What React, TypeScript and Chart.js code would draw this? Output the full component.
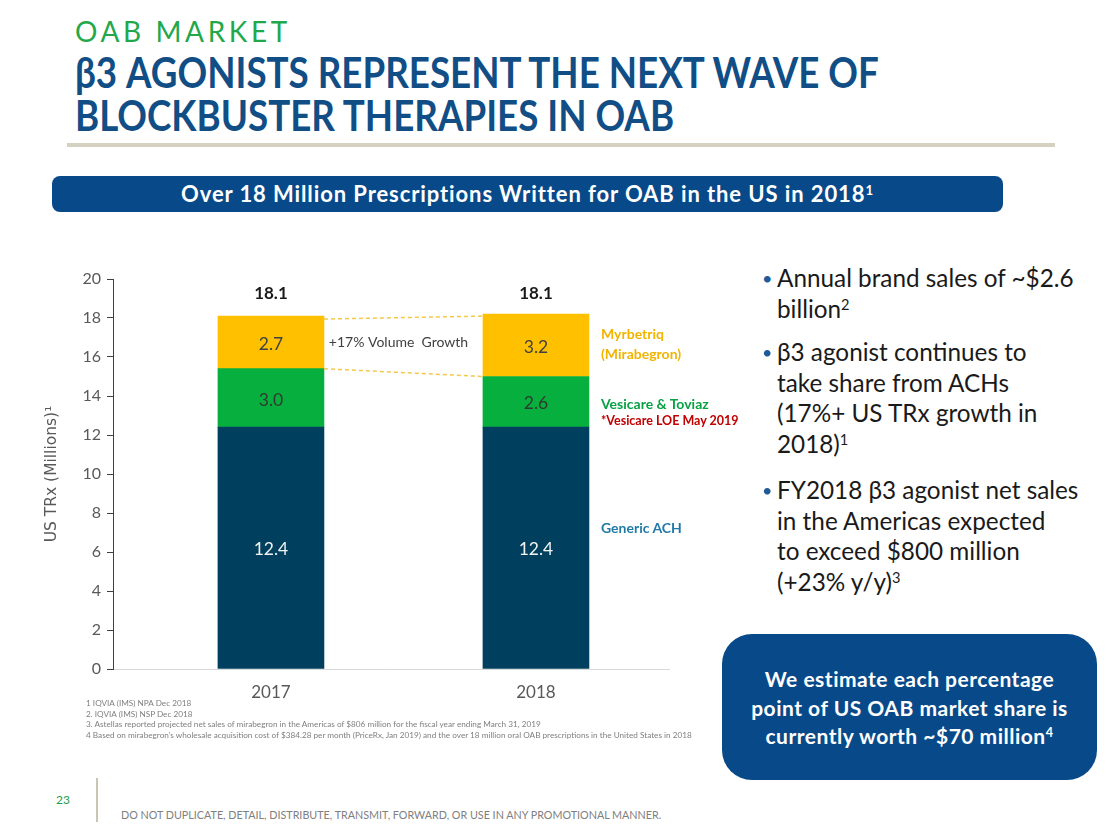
import React, { useEffect, useRef } from 'react';
import { Chart, registerables } from 'chart.js';

Chart.register(...registerables);

// ---- data ----
const categories = ['2017', '2018'];
const genericACH = [12.4, 12.4];
const vesicareToviaz = [3.0, 2.6];
const myrbetriq = [2.7, 3.2];
const totalLabels = ['18.1', '18.1'];
const seriesNames = ['Generic ACH', 'Vesicare & Toviaz', 'Myrbetriq (Mirabegron)'];
const growthLabel = '+17% Volume  Growth';
const yMin = 0;
const yMax = 20;
const yStep = 2;

const FONT = 'Lato, "Open Sans", sans-serif';

const valueLabelPlugin = {
  id: 'valueLabels',
  afterDatasetsDraw(chart: any) {
    const ctx = chart.ctx;
    const colors = ['#f2f2f2', '#2f3b2f', '#404040'];
    ctx.save();
    chart.data.datasets.forEach((ds: any, di: number) => {
      const meta = chart.getDatasetMeta(di);
      meta.data.forEach((bar: any, i: number) => {
        const p = bar.getProps(['x', 'y', 'base'], true);
        ctx.font = `17.5px ${FONT}`;
        ctx.fillStyle = colors[di];
        ctx.textAlign = 'center';
        ctx.textBaseline = 'middle';
        ctx.fillText(ds.data[i].y.toFixed(1), p.x, (p.y + p.base) / 2 + 2);
      });
    });
    // totals
    const topMeta = chart.getDatasetMeta(chart.data.datasets.length - 1);
    const tops = topMeta.data.map((b: any) => b.getProps(['y'], true).y);
    const topY = Math.min(...tops) - 21;
    topMeta.data.forEach((bar: any, i: number) => {
      ctx.font = `bold 17px ${FONT}`;
      ctx.fillStyle = '#1a1a1a';
      ctx.textAlign = 'center';
      ctx.textBaseline = 'middle';
      ctx.fillText(totalLabels[i], bar.x, topY);
    });
    // dashed connectors between the yellow segments
    const b0 = topMeta.data[0].getProps(['x', 'y', 'base', 'width'], true);
    const b1 = topMeta.data[1].getProps(['x', 'y', 'base', 'width'], true);
    const xL = b0.x + b0.width / 2;
    const xR = b1.x - b1.width / 2;
    ctx.strokeStyle = '#f5c84a';
    ctx.lineWidth = 1.5;
    ctx.setLineDash([4, 3]);
    ctx.beginPath();
    ctx.moveTo(xL, b0.y + 3);
    ctx.lineTo(xR, b1.y + 2);
    ctx.moveTo(xL, b0.base);
    ctx.lineTo(xR, b1.base);
    ctx.stroke();
    ctx.setLineDash([]);
    ctx.font = `14px ${FONT}`;
    ctx.fillStyle = '#404040';
    ctx.textAlign = 'center';
    ctx.textBaseline = 'middle';
    const midY = ((b0.y + b0.base) / 2 + (b1.y + b1.base) / 2) / 2;
    ctx.fillText(growthLabel, (xL + xR) / 2 - 5, midY - 1);
    ctx.restore();
  },
};

function BarChart() {
  const ref = useRef<HTMLCanvasElement>(null);
  useEffect(() => {
    if (!ref.current) return;
    const colors = ['#00405e', '#07b03e', '#ffc000'];
    const series = [genericACH, vesicareToviaz, myrbetriq];
    const chart = new Chart(ref.current, {
      type: 'bar',
      data: {
        datasets: series.map((s, si) => ({
          label: seriesNames[si],
          data: s.map((v, i) => ({ x: i, y: v })),
          backgroundColor: colors[si],
          borderWidth: 0,
          barThickness: 106,
        })),
      },
      options: {
        animation: false,
        responsive: false,
        maintainAspectRatio: false,
        layout: { padding: { top: 17, right: 21, bottom: 0, left: 0 } },
        plugins: { legend: { display: false }, tooltip: { enabled: false } },
        scales: {
          x: {
            type: 'linear',
            stacked: true,
            offset: false,
            min: -0.596,
            max: 1.502,
            afterBuildTicks: (s: any) => {
              s.ticks = categories.map((_, i) => ({ value: i }));
            },
            afterFit: (s: any) => {
              s.height = 43;
            },
            ticks: {
              callback: (v: any) => categories[v] ?? '',
              color: '#595959',
              font: { size: 17, family: FONT },
              padding: 13,
              autoSkip: false,
              maxRotation: 0,
            },
            grid: { display: false, drawTicks: false, offset: false },
            border: { display: true, color: '#d9d9d9', width: 1 },
          },
          y: {
            stacked: true,
            min: yMin,
            max: yMax,
            afterFit: (s: any) => {
              s.width = 83;
            },
            ticks: {
              stepSize: yStep,
              color: '#595959',
              font: { size: 16, family: FONT },
              padding: 6,
            },
            grid: { drawOnChartArea: false, drawTicks: true, tickLength: 6, color: '#404040' },
            border: { display: true, color: '#404040', width: 1 },
            title: {
              display: true,
              text: 'US TRx (Millions)¹',
              color: '#595959',
              font: { size: 15.5, family: '"DejaVu Sans", sans-serif' },
              padding: { top: 13, bottom: 0 },
            },
          },
        },
      },
      plugins: [valueLabelPlugin],
    } as any);
    return () => chart.destroy();
  }, []);
  return (
    <canvas
      ref={ref}
      width={660}
      height={450}
      style={{ position: 'absolute', left: 30, top: 262, width: 660, height: 450 }}
    />
  );
}

const abs = (left: number, top: number, extra: React.CSSProperties = {}): React.CSSProperties => ({
  position: 'absolute',
  left,
  top,
  whiteSpace: 'nowrap',
  fontFamily: FONT,
  ...extra,
});

const footnotes = [
  '1 IQVIA (IMS) NPA Dec 2018',
  '2. IQVIA (IMS) NSP Dec 2018',
  '3. Astellas reported projected net sales of mirabegron in the Americas of $806 million for the fiscal year ending March 31, 2019',
  '4  Based on mirabegron’s wholesale acquisition cost of $384.28 per month (PriceRx, Jan 2019) and the over 18 million oral OAB prescriptions in the United States in 2018',
];

export default function App() {
  const sup: React.CSSProperties = { fontSize: '0.6em', verticalAlign: '0.55em', lineHeight: 0 };
  const bulletBlock = (top: number, lines: React.ReactNode[]) => (
    <div style={abs(762, top, { fontSize: 24.3, lineHeight: '30.5px', color: '#1a1a1a' })}>
      <span style={{ position: 'absolute', left: 0, top: 0, color: '#1f5b98', fontSize: 18 }}>•</span>
      <div style={{ marginLeft: 15 }}>
        {lines.map((l, i) => (
          <div key={i}>{l}</div>
        ))}
      </div>
    </div>
  );
  return (
    <div style={{ position: 'absolute', left: 0, top: 0, width: 1120, height: 840, overflow: 'hidden', background: '#fff' }}>
      <div style={abs(75, 14, { fontSize: 28, lineHeight: '34px', letterSpacing: 3.6, color: '#22a84b' })}>OAB MARKET</div>
      <div
        style={abs(75, 51, {
          fontSize: 42,
          lineHeight: '43px',
          fontWeight: 700,
          color: '#114e86',
          transform: 'scaleX(0.875)',
          transformOrigin: 'left top',
        })}
      >
        <div>β3 AGONISTS REPRESENT THE NEXT WAVE OF</div>
        <div>BLOCKBUSTER THERAPIES IN OAB</div>
      </div>
      <div style={{ position: 'absolute', left: 67, top: 143, width: 988, height: 4, background: '#d4d1c1' }} />
      <div
        style={abs(52, 176, {
          width: 951,
          height: 36,
          borderRadius: 8,
          background: '#084a89',
          color: '#fff',
          fontWeight: 700,
          fontSize: 22,
          letterSpacing: 0.9,
          lineHeight: '36px',
          textAlign: 'center',
        })}
      >
        Over 18 Million Prescriptions Written for OAB in the US in 2018<span style={sup}>1</span>
      </div>

      <BarChart />

      <div style={abs(601, 324, { fontSize: 14, lineHeight: '20px', fontWeight: 700, color: '#f2b400' })}>
        Myrbetriq
        <br />
        (Mirabegron)
      </div>
      <div style={abs(601, 394, { fontSize: 14, lineHeight: '20px', fontWeight: 700, color: '#0aa044' })}>
        Vesicare &amp; Toviaz
      </div>
      <div style={abs(601, 413, { fontSize: 12.5, lineHeight: '16px', fontWeight: 700, color: '#c00000' })}>
        *Vesicare LOE May 2019
      </div>
      <div style={abs(601, 518, { fontSize: 14, lineHeight: '20px', fontWeight: 700, color: '#1f7aa8' })}>
        Generic ACH
      </div>

      {footnotes.map((f, i) => (
        <div key={i} style={abs(86, 698 + i * 10.6, { fontSize: 8.2, lineHeight: '10px', color: '#7f7f7f' })}>
          {f}
        </div>
      ))}

      {bulletBlock(263, ['Annual brand sales of ~$2.6', <span>billion<span style={sup}>2</span></span>])}
      {bulletBlock(337, [
        'β3 agonist continues to',
        'take share from ACHs',
        '(17%+ US TRx growth in',
        <span>2018)<span style={sup}>1</span></span>,
      ])}
      {bulletBlock(475, [
        'FY2018 β3 agonist net sales',
        'in the Americas expected',
        'to exceed $800 million',
        <span>(+23% y/y)<span style={sup}>3</span></span>,
      ])}

      <div
        style={abs(722, 634, {
          width: 375,
          height: 146,
          borderRadius: 30,
          background: '#084a89',
        })}
      />
      <div
        style={abs(722, 665, {
          width: 375,
          textAlign: 'center',
          color: '#fff',
          fontWeight: 700,
          fontSize: 21,
          letterSpacing: 0.5,
          lineHeight: '28.5px',
        })}
      >
        <div>We estimate each percentage</div>
        <div>point of US OAB market share is</div>
        <div>
          currently worth ~$70 million<span style={sup}>4</span>
        </div>
      </div>

      <div style={abs(56, 792, { fontSize: 12, lineHeight: '16px', color: '#1e9e4a' })}>23</div>
      <div style={{ position: 'absolute', left: 96, top: 778, width: 2, height: 44, background: '#c9c5b5' }} />
      <div style={abs(121, 808, { fontSize: 10.75, lineHeight: '14px', color: '#808080' })}>
        DO NOT DUPLICATE, DETAIL, DISTRIBUTE, TRANSMIT, FORWARD, OR USE IN ANY PROMOTIONAL MANNER.
      </div>
    </div>
  );
}
